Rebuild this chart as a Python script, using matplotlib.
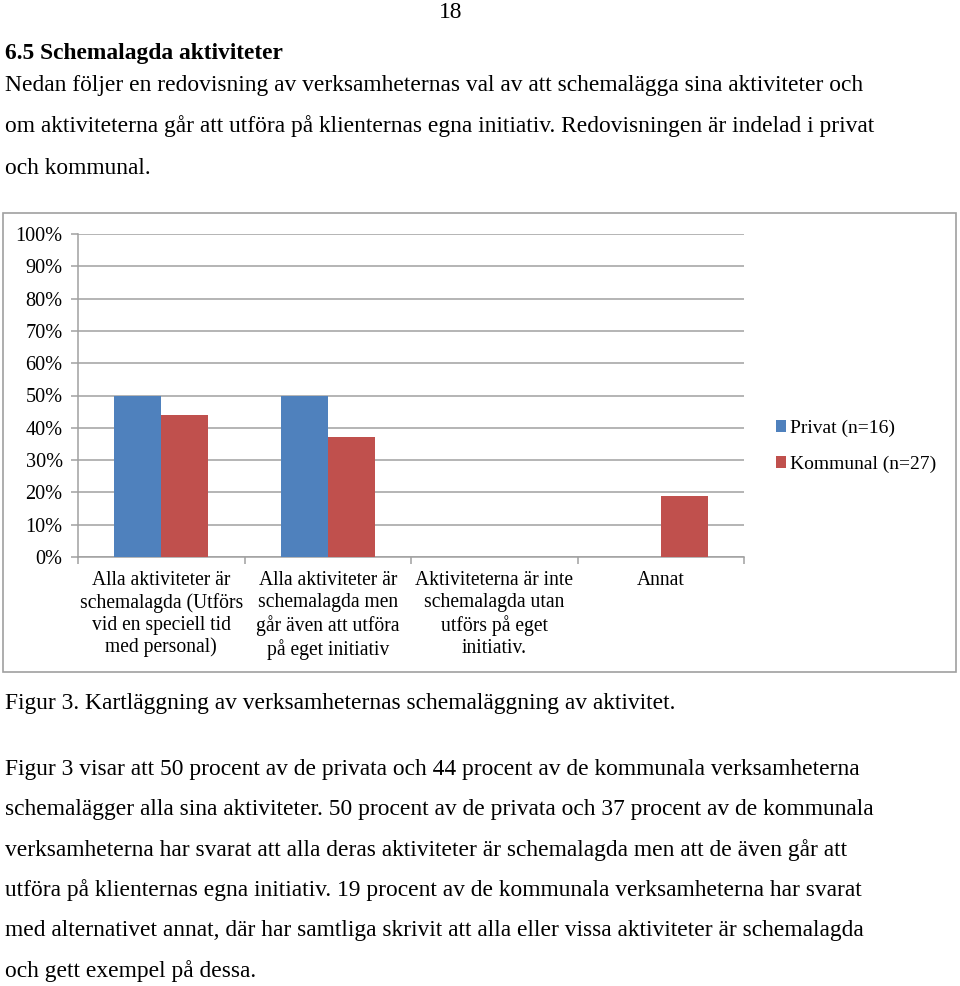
import matplotlib.pyplot as plt
from matplotlib.patches import Rectangle
from matplotlib.ticker import PercentFormatter, FixedLocator

# Chart data
categories = [
    "Alla aktiviteter är\nschemalagda (Utförs\nvid en speciell tid\nmed personal)",
    "Alla aktiviteter är\nschemalagda men\ngår även att utföra\npå eget initiativ",
    "Aktiviteterna är inte\nschemalagda utan\nutförs på eget\ninitiativ.",
    "Annat",
]
privat = [0.50, 0.50, 0.0, 0.0]
kommunal = [0.44, 0.37, 0.0, 0.19]
series_names = ["Privat (n=16)", "Kommunal (n=27)"]

# Page text
page_no = "18"
heading = "6.5 Schemalagda aktiviteter"
intro = [
    "Nedan följer en redovisning av verksamheternas val av att schemalägga sina aktiviteter och",
    "om aktiviteterna går att utföra på klienternas egna initiativ. Redovisningen är indelad i privat",
    "och kommunal.",
]
caption = "Figur 3. Kartläggning av verksamheternas schemaläggning av aktivitet."
outro = [
    "Figur 3 visar att 50 procent av de privata och 44 procent av de kommunala verksamheterna",
    "schemalägger alla sina aktiviteter. 50 procent av de privata och 37 procent av de kommunala",
    "verksamheterna har svarat att alla deras aktiviteter är schemalagda men att de även går att",
    "utföra på klienternas egna initiativ. 19 procent av de kommunala verksamheterna har svarat",
    "med alternativet annat, där har samtliga skrivit att alla eller vissa aktiviteter är schemalagda",
    "och gett exempel på dessa.",
]

plt.rcParams['font.family'] = ['Liberation Serif', 'DejaVu Serif']

W, H = 960, 986
fig = plt.figure(figsize=(W / 100, H / 100), dpi=100, facecolor='white')


def fx(px):
    return px / W


def fy(py):
    return 1 - py / H


BODY = 16.9
grid_col = '#A0A0A0'

# page text above chart
fig.text(fx(451), fy(12), page_no, ha='center', va='center', fontsize=BODY)
fig.text(fx(5), fy(53), heading, ha='left', va='center', fontsize=BODY, fontweight='bold')
for i, line in enumerate(intro):
    fig.text(fx(5), fy(85 + i * 41.5), line, ha='left', va='center', fontsize=BODY)

# chart frame
fig.patches.append(Rectangle((fx(3), fy(672)), fx(956) - fx(3), fy(213) - fy(672),
                             transform=fig.transFigure, fill=False,
                             edgecolor='#A0A0A0', linewidth=1.2))

ax = fig.add_axes([fx(78), fy(557), fx(744) - fx(78), fy(234) - fy(557)])
x = list(range(len(categories)))
w = 0.283
ax.bar([i - w / 2 for i in x], privat, width=w, color='#4F81BD', label=series_names[0], zorder=3)
ax.bar([i + w / 2 for i in x], kommunal, width=w, color='#C0504D', label=series_names[1], zorder=3)

ax.set_xlim(-0.5, len(categories) - 0.5)
ax.set_ylim(0, 1)
ax.yaxis.set_major_locator(FixedLocator([i / 10 for i in range(11)]))
ax.yaxis.set_major_formatter(PercentFormatter(1.0, decimals=0))
ax.grid(axis='y', color=grid_col, linewidth=1.1, zorder=0)
ax.set_axisbelow(True)

ax.set_xticks(x)
ax.set_xticklabels(categories, fontsize=14.1, linespacing=1.2)
ax.xaxis.set_minor_locator(FixedLocator([i + 0.5 for i in range(-1, len(categories))]))
ax.tick_params(axis='x', which='major', length=0, pad=10)
ax.tick_params(axis='x', which='minor', length=5, color=grid_col, width=1.1)
ax.tick_params(axis='y', length=5, color=grid_col, width=1.1, labelsize=14.6, pad=6)

for s in ['top', 'right']:
    ax.spines[s].set_visible(False)
ax.spines['left'].set_color(grid_col)
ax.spines['bottom'].set_color(grid_col)
ax.spines['left'].set_linewidth(1.1)
ax.spines['bottom'].set_linewidth(1.1)

fig.legend(loc='upper left', bbox_to_anchor=(fx(766), fy(410)), frameon=False,
           fontsize=14, handlelength=0.55, handleheight=0.55, handletextpad=0.2,
           labelspacing=0.95, borderpad=0)

# page text below chart
fig.text(fx(5), fy(704), caption, ha='left', va='center', fontsize=BODY)
for i, line in enumerate(outro):
    fig.text(fx(5), fy(769 + i * 40.4), line, ha='left', va='center', fontsize=BODY)

fig.savefig('out.png', dpi=100, facecolor='white')
